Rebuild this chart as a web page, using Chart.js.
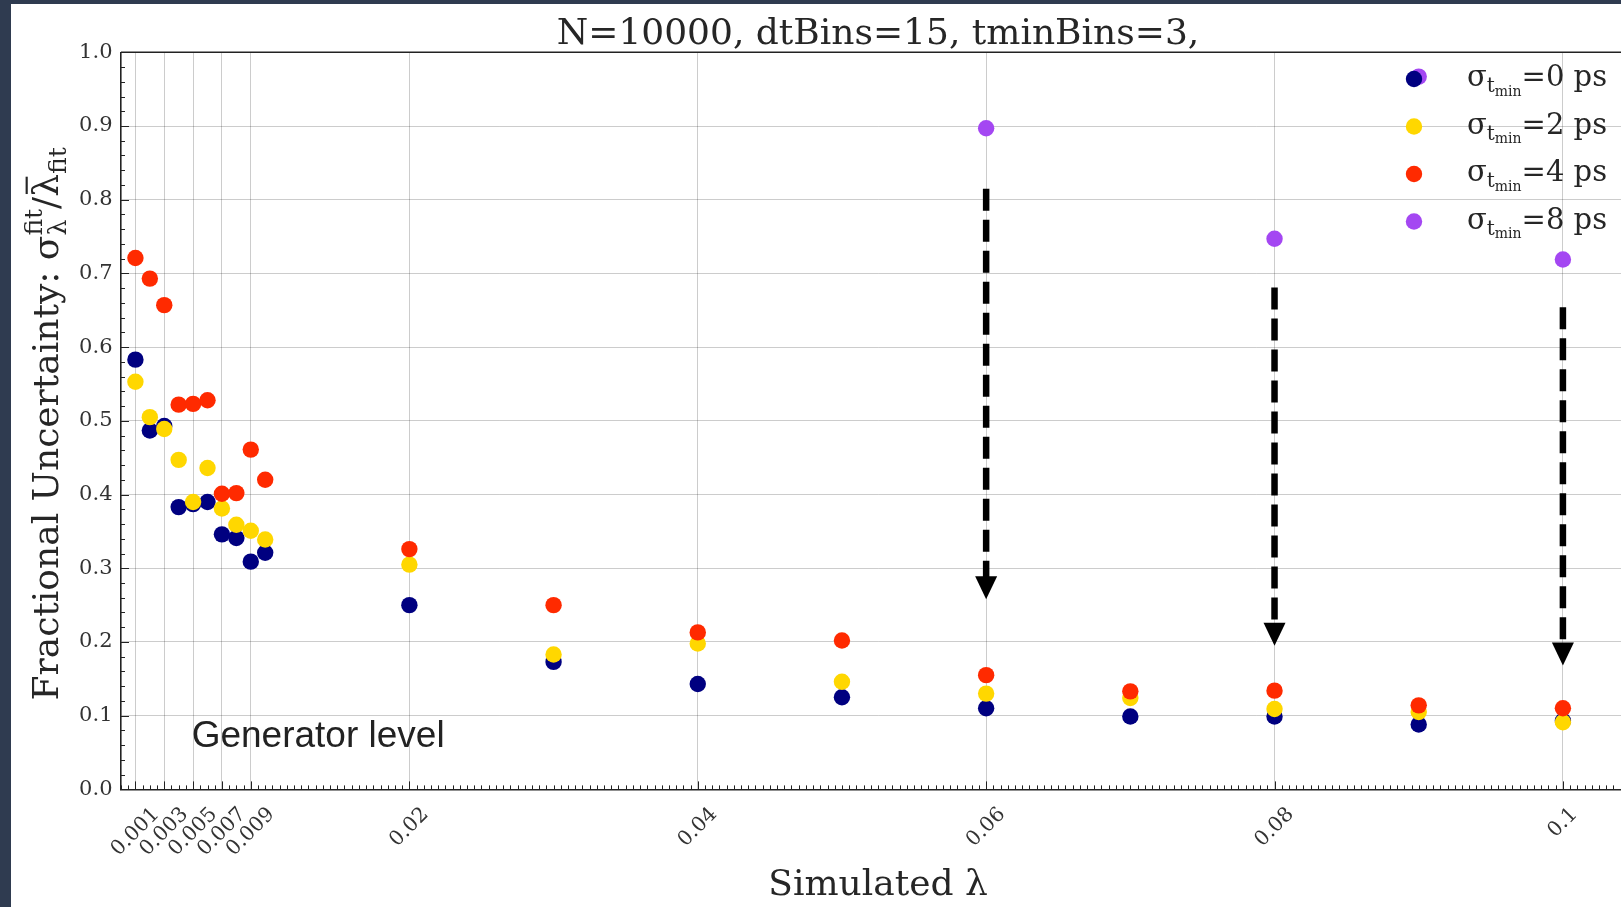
<!DOCTYPE html>
<html>
<head>
<meta charset="utf-8">
<script src="https://cdn.jsdelivr.net/npm/chart.js@4.4.0/dist/chart.umd.min.js"></script>
<style>
html, body { margin: 0; padding: 0; width: 1621px; height: 907px; overflow: hidden; background: #2f3b50; }
#wrap { position: absolute; left: 11px; top: 4px; width: 1610px; height: 903px; background: #fff; overflow: hidden; }
canvas { display: block; }
</style>
</head>
<body>
<div id="wrap"><canvas id="myChart" width="1660" height="903"></canvas></div>
<script>
// simulated lambda values
var lambdas = [0.001, 0.002, 0.003, 0.004, 0.005, 0.006, 0.007, 0.008, 0.009, 0.010,
    0.02, 0.03, 0.04, 0.05, 0.06, 0.07, 0.08, 0.09, 0.1];

// fractional uncertainty for each sigma_tmin
var unc0ps = [0.583, 0.487, 0.493, 0.383, 0.387, 0.390, 0.346, 0.341, 0.309, 0.321,
    0.250, 0.173, 0.143, 0.125, 0.110, 0.099, 0.099, 0.088, 0.093];
var unc2ps = [0.553, 0.505, 0.489, 0.447, 0.390, 0.436, 0.381, 0.359, 0.351, 0.339,
    0.305, 0.183, 0.198, 0.146, 0.130, 0.124, 0.109, 0.105, 0.091];
var unc4ps = [0.721, 0.693, 0.657, 0.522, 0.523, 0.528, 0.401, 0.402, 0.461, 0.420,
    0.326, 0.250, 0.213, 0.202, 0.155, 0.133, 0.134, 0.114, 0.110];
// 8 ps only visible for the large lambdas
var lambdas8ps = [0.06, 0.08, 0.09, 0.1];
var unc8ps = [0.897, 0.747, 0.967, 0.719];

var tminValues = [0, 2, 4, 8];
var seriesColors = ['#000080', '#ffd700', '#ff2a00', '#a447f2'];

// x axis ticks
var xTickValues = [0.001, 0.003, 0.005, 0.007, 0.009, 0.02, 0.04, 0.06, 0.08, 0.1];
var xTickLabels = ['0.001', '0.003', '0.005', '0.007', '0.009', '0.02', '0.04', '0.06', '0.08', '0.1'];

// upper limit arrows
var arrowX = [0.06, 0.08, 0.1];
var arrowTop = [0.815, 0.681, 0.654];
var arrowTip = [0.258, 0.195, 0.168];

var SERIF = '"DejaVu Serif", serif';
var TEXT = '#262626';

function toPoints(xs, ys) {
    return xs.map(function (x, i) { return { x: x, y: ys[i] }; });
}

function partWidth(ctx, p) {
    if (p.stack) {
        return Math.max.apply(null, p.stack.map(function (q) { return partWidth(ctx, q); }));
    }
    ctx.font = p.s + 'px ' + SERIF;
    return ctx.measureText(p.t).width;
}

function partsWidth(ctx, parts) {
    var w = 0;
    parts.forEach(function (p) { w += partWidth(ctx, p); });
    return w;
}

// draw text pieces with sub/superscripts on a common baseline
function drawParts(ctx, parts, x, y) {
    parts.forEach(function (p) {
        var w = partWidth(ctx, p);
        (p.stack || [p]).forEach(function (q) {
            ctx.font = q.s + 'px ' + SERIF;
            ctx.fillText(q.t, x, y + (q.dy || 0));
            if (q.bar) {
                var qw = ctx.measureText(q.t).width;
                ctx.fillRect(x + qw * 0.12, y - q.s * 0.9, qw * 0.76, q.s * 0.06);
            }
        });
        x += w;
    });
}

var decorations = {
    id: 'decorations',
    afterDatasetsDraw: function (chart) {
        var ctx = chart.ctx;
        var area = chart.chartArea;
        var xs = chart.scales.x;
        var ys = chart.scales.y;
        var i, px, py;

        ctx.save();

        // inward ticks
        ctx.strokeStyle = '#222';
        ctx.lineWidth = 1;
        ctx.beginPath();
        for (i = 0; i <= 50; i++) {
            py = Math.round(ys.getPixelForValue(i * 0.02)) + 0.5;
            ctx.moveTo(area.left, py);
            ctx.lineTo(area.left + (i % 5 === 0 ? 8 : 4), py);
        }
        for (i = 0; i <= 210; i++) {
            px = Math.round(xs.getPixelForValue(i * 0.0005)) + 0.5;
            ctx.moveTo(px, area.bottom);
            ctx.lineTo(px, area.bottom - 4);
        }
        xTickValues.forEach(function (t) {
            px = Math.round(xs.getPixelForValue(t)) + 0.5;
            ctx.moveTo(px, area.bottom);
            ctx.lineTo(px, area.bottom - 8);
        });
        ctx.stroke();

        // top spine
        ctx.lineWidth = 1.6;
        ctx.beginPath();
        ctx.moveTo(area.left, area.top);
        ctx.lineTo(area.right, area.top);
        ctx.stroke();

        // rotated x tick labels
        ctx.fillStyle = '#333';
        ctx.font = '20.5px ' + SERIF;
        ctx.textAlign = 'center';
        ctx.textBaseline = 'middle';
        xTickValues.forEach(function (t, k) {
            var w = ctx.measureText(xTickLabels[k]).width;
            var h = (w + 15) * Math.SQRT1_2;
            ctx.save();
            ctx.translate(xs.getPixelForValue(t), area.bottom + 16.5 + h / 2);
            ctx.rotate(-Math.PI / 4);
            ctx.fillText(xTickLabels[k], 0, 0);
            ctx.restore();
        });

        // dashed arrows
        ctx.strokeStyle = '#000';
        ctx.fillStyle = '#000';
        arrowX.forEach(function (a, k) {
            var ax = xs.getPixelForValue(a);
            var top = ys.getPixelForValue(arrowTop[k]);
            var tip = ys.getPixelForValue(arrowTip[k]);
            ctx.lineWidth = 6.5;
            ctx.setLineDash([22, 9]);
            ctx.beginPath();
            ctx.moveTo(ax, top);
            ctx.lineTo(ax, tip - 20);
            ctx.stroke();
            ctx.setLineDash([]);
            ctx.beginPath();
            ctx.moveTo(ax - 11, tip - 23);
            ctx.lineTo(ax + 11, tip - 23);
            ctx.lineTo(ax, tip);
            ctx.closePath();
            ctx.fill();
        });

        // title and axis labels
        ctx.fillStyle = TEXT;
        ctx.textBaseline = 'alphabetic';
        ctx.textAlign = 'center';
        ctx.font = '36px ' + SERIF;
        var cx = (area.left + area.right) / 2;
        ctx.fillText('N=10000, dtBins=15, tminBins=3,', cx, 40);
        ctx.fillText('Simulated λ', cx, 891);

        ctx.textAlign = 'left';
        var yParts = [
            { t: 'Fractional Uncertainty: ', s: 36 },
            { t: 'σ', s: 36 },
            { stack: [{ t: 'fit', s: 25, dy: -16 }, { t: 'λ', s: 25, dy: 8 }] },
            { t: '/', s: 36 },
            { t: 'λ', s: 36, bar: true },
            { t: 'fit', s: 25, dy: 8 }
        ];
        var yw = partsWidth(ctx, yParts);
        ctx.save();
        ctx.translate(47, (area.top + area.bottom) / 2 + 3);
        ctx.rotate(-Math.PI / 2);
        drawParts(ctx, yParts, -yw / 2, 0);
        ctx.restore();

        // annotation
        ctx.font = '37px "Liberation Sans", Arial, sans-serif';
        ctx.fillStyle = '#222';
        ctx.fillText('Generator level', xs.getPixelForValue(0.0049), ys.getPixelForValue(0.057));

        // legend
        tminValues.forEach(function (t, k) {
            var ly = 75 + k * 47.5;
            ctx.fillStyle = seriesColors[k];
            ctx.beginPath();
            ctx.arc(1403, ly, 8.2, 0, Math.PI * 2);
            ctx.fill();
            ctx.fillStyle = TEXT;
            drawParts(ctx, [
                { t: 'σ', s: 29 },
                { t: 't', s: 20, dy: 6 },
                { t: 'min', s: 14, dy: 9.5 },
                { t: '=' + t + ' ps', s: 29 }
            ], 1456, ly + 7);
        });

        ctx.restore();
    }
};

function displayChart() {
    var ctx = document.getElementById('myChart').getContext('2d');
    var chart = new Chart(ctx, {
        type: 'scatter',
        data: {
            datasets: [
                {
                    label: 'σ_tmin=0 ps',
                    data: toPoints(lambdas, unc0ps),
                    backgroundColor: seriesColors[0],
                    order: 4
                },
                {
                    label: 'σ_tmin=2 ps',
                    data: toPoints(lambdas, unc2ps),
                    backgroundColor: seriesColors[1],
                    order: 3
                },
                {
                    label: 'σ_tmin=4 ps',
                    data: toPoints(lambdas, unc4ps),
                    backgroundColor: seriesColors[2],
                    order: 2
                },
                {
                    label: 'σ_tmin=8 ps',
                    data: toPoints(lambdas8ps, unc8ps),
                    backgroundColor: seriesColors[3],
                    order: 1
                }
            ]
        },
        options: {
            responsive: false,
            animation: false,
            layout: { padding: { left: 0, top: 48.3, right: 36, bottom: 0 } },
            elements: { point: { radius: 8.2, borderWidth: 0, hoverRadius: 8.2 } },
            plugins: {
                legend: { display: false },
                title: { display: false },
                tooltip: { enabled: false }
            },
            scales: {
                x: {
                    type: 'linear',
                    min: 0,
                    max: 0.105,
                    afterBuildTicks: function (scale) {
                        scale.ticks = xTickValues.map(function (v) { return { value: v }; });
                    },
                    afterFit: function (scale) { scale.height = 117.6; },
                    ticks: { display: false },
                    grid: { color: 'rgba(0,0,0,0.2)', lineWidth: 1, drawTicks: false },
                    border: { color: '#222', width: 1.6 }
                },
                y: {
                    min: 0,
                    max: 1,
                    afterFit: function (scale) { scale.width = 110; },
                    ticks: {
                        stepSize: 0.1,
                        padding: 8.5,
                        color: '#333',
                        font: { family: SERIF, size: 21 },
                        callback: function (v) { return v.toFixed(1); }
                    },
                    grid: { color: 'rgba(0,0,0,0.2)', lineWidth: 1, drawTicks: false },
                    border: { color: '#222', width: 1.6 }
                }
            }
        },
        plugins: [decorations]
    });
}

displayChart();
</script>
</body>
</html>
